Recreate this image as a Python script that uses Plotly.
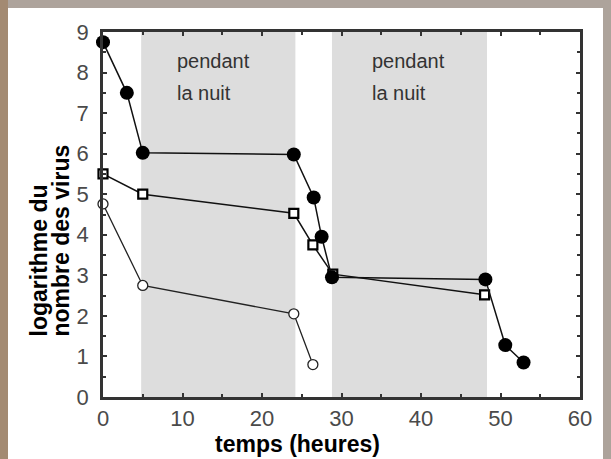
import plotly.graph_objects as go

# data
t_filled = [0, 3, 5, 24, 26.5, 27.5, 28.8, 48.1, 50.6, 52.9]
v_filled = [8.75, 7.5, 6.02, 5.98, 4.92, 3.95, 2.95, 2.9, 1.28, 0.85]

t_square = [0, 5, 24, 26.4, 28.9, 48]
v_square = [5.5, 5.0, 4.53, 3.75, 3.03, 2.52]

t_open = [0, 5, 24, 26.4]
v_open = [4.76, 2.75, 2.05, 0.8]

night_periods = [(4.8, 24.2), (28.8, 48.3)]
night_label_x = [9.0, 33.6]
night_line1 = "pendant"
night_line2 = "la nuit"

x_ticks = [0, 10, 20, 30, 40, 50, 60]
y_ticks = [0, 1, 2, 3, 4, 5, 6, 7, 8, 9]

x_title = "<b>temps (heures)</b>"
y_title_lines = ["<b>logarithme du</b>", "<b>nombre des virus</b>"]

FONT = "Liberation Sans, Arial, Helvetica"

fig = go.Figure()

fig.add_trace(go.Scatter(
    x=t_open, y=v_open, mode="lines+markers", cliponaxis=False,
    line=dict(color="#222", width=1.3),
    marker=dict(symbol="circle", size=10, color="white",
                line=dict(color="#222", width=1.3)),
    showlegend=False))
fig.add_trace(go.Scatter(
    x=t_square, y=v_square, mode="lines+markers", cliponaxis=False,
    line=dict(color="#111", width=1.5),
    marker=dict(symbol="square", size=9, color="white",
                line=dict(color="#000", width=2.2)),
    showlegend=False))
fig.add_trace(go.Scatter(
    x=t_filled, y=v_filled, mode="lines+markers", cliponaxis=False,
    line=dict(color="#111", width=1.5),
    marker=dict(symbol="circle", size=14, color="#000"),
    showlegend=False))

shapes = []
for (a, b), lx in zip(night_periods, night_label_x):
    shapes.append(dict(type="rect", xref="x", yref="y", x0=a, x1=b, y0=0, y1=9,
                       fillcolor="#dddddd", line=dict(width=0), layer="below"))
    fig.add_annotation(x=lx, y=8.28, xref="x", yref="y", text=night_line1,
                       showarrow=False, xanchor="left", yanchor="middle",
                       font=dict(family=FONT, size=20, color="#333"))
    fig.add_annotation(x=lx, y=7.5, xref="x", yref="y", text=night_line2,
                       showarrow=False, xanchor="left", yanchor="middle",
                       font=dict(family=FONT, size=20, color="#333"))

# plot area in window pixels: x 103..580, y 29..397
PX0, PX1, PY0, PY1 = 103, 580, 397, 29


def px_x(px):
    return (px - PX0) / (PX1 - PX0)


def px_y(py):
    return (PY0 - py) / (PY0 - PY1)


# axis titles placed as annotations (the originals are offset from centre)
fig.add_annotation(x=px_x(297), y=px_y(444), xref="paper", yref="paper",
                   text=x_title, showarrow=False, xanchor="center", yanchor="middle",
                   font=dict(family=FONT, size=23, color="#000"))
for line, cx in zip(y_title_lines, [39, 61]):
    fig.add_annotation(x=px_x(cx), y=px_y(338), xref="paper", yref="paper",
                       text=line, showarrow=False, textangle=-90,
                       xanchor="center", yanchor="bottom",
                       font=dict(family=FONT, size=23, color="#000"))

fig.update_layout(
    width=603, height=451,
    margin=dict(l=95, r=31, t=21, b=62),
    paper_bgcolor="white", plot_bgcolor="white",
    shapes=shapes,
)

tickfont = dict(family=FONT, size=22, color="#4a4a4a")
fig.update_xaxes(range=[0, 60], tickvals=x_ticks, ticks="inside", ticklen=4,
                 tickwidth=1.5, tickcolor="#333", mirror="ticks",
                 showline=True, linecolor="#333", linewidth=2.5, showgrid=False,
                 zeroline=False, tickfont=tickfont,
                 minor=dict(dtick=5, ticks="inside", ticklen=3, tickcolor="#333"))
fig.update_yaxes(range=[0, 9], tickvals=y_ticks, ticks="inside", ticklen=4,
                 tickwidth=1.5, tickcolor="#333", mirror="ticks",
                 showline=True, linecolor="#333", linewidth=2.5, showgrid=False,
                 zeroline=False, tickfont=tickfont, ticklabelstandoff=7,
                 minor=dict(dtick=0.5, ticks="inside", ticklen=3, tickcolor="#333"))

fig.write_html(
    "out.html",
    post_script="document.body.style.background="
                "'linear-gradient(90deg, #a38a72 0px, #a38a72 8px, #ada39b 8px)';",
)
